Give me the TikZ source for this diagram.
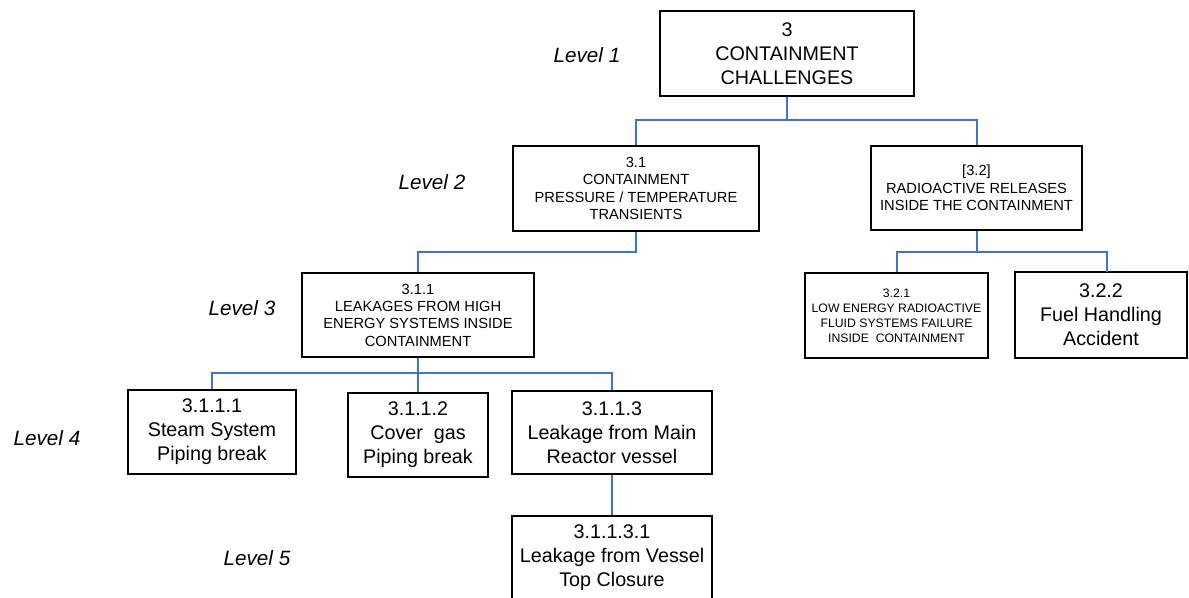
\documentclass[tikz,border=0pt]{standalone}
\usepackage{fontspec}
\setmainfont{Liberation Sans}
\definecolor{connblue}{RGB}{68,114,196}
\begin{document}
\begin{tikzpicture}[x=0.75pt,y=-0.75pt,
  box/.style={draw=black,line width=1.8pt,fill=white,inner sep=0pt,align=center,anchor=center},
  dims/.style 2 args={minimum width=#1*0.75pt,minimum height=#2*0.75pt},
  conn/.style={draw=connblue,line width=1.5pt},
  big/.style={font=\fontsize{14.8}{18}\selectfont},
  midf/.style={font=\fontsize{11}{13}\selectfont},
  smallf/.style={font=\fontsize{9.2}{11.2}\selectfont},
  lvl/.style={font=\fontsize{15.5}{18}\selectfont\itshape,inner sep=0pt}]
\useasboundingbox (0,0) rectangle (1189,598);
\clip (0,0) rectangle (1189,598);
\fill[white] (0,0) rectangle (1189,598);

% level labels
\node[lvl] (l1) at (587,55) {Level 1};
\node[lvl] (l2) at (432,182) {Level 2};
\node[lvl] (l3) at (242,308) {Level 3};
\node[lvl] (l4) at (47,438) {Level 4};
\node[lvl] (l5) at (257,558) {Level 5};

% boxes
\node[box,big,dims={254}{85}] (b3) at (787,53.5) {3\\CONTAINMENT\\CHALLENGES};
\node[box,midf,dims={246}{85}] (b31) at (636,188.5) {3.1\\CONTAINMENT\\PRESSURE / TEMPERATURE\\TRANSIENTS};
\node[box,midf,dims={211}{84}] (b32) at (976.5,188) {[3.2]\\RADIOACTIVE RELEASES\\INSIDE THE CONTAINMENT};
\node[box,midf,dims={232}{84}] (b311) at (418,315) {3.1.1\\LEAKAGES FROM HIGH\\ENERGY SYSTEMS INSIDE\\CONTAINMENT};
\node[box,smallf,dims={183}{85}] (b321) at (896.5,315.5) {3.2.1\\LOW ENERGY RADIOACTIVE\\FLUID SYSTEMS FAILURE\\INSIDE\ \ CONTAINMENT};
\node[box,big,dims={172}{86}] (b322) at (1101,315) {3.2.2\\Fuel Handling\\Accident};
\node[box,big,dims={168}{84}] (b3111) at (212,432) {3.1.1.1\\Steam System\\Piping break};
\node[box,big,dims={140}{84}] (b3112) at (418,435) {3.1.1.2\\Cover\ \ gas\\Piping break};
\node[box,big,dims={200}{83}] (b3113) at (612,432.5) {3.1.1.3\\Leakage from Main\\Reactor vessel};
\node[box,dims={200}{100}] (b31131) at (612,566) {};
\node[big,align=center,inner sep=0pt] (t31131) at (612,558) {3.1.1.3.1\\Leakage from Vessel\\Top Closure};

% junctions
\coordinate (j1) at (787,120);
\coordinate (j2) at (636,252);
\coordinate (j3) at (976.5,252);
\coordinate (j4) at (418,373);
\coordinate (t322) at (1107,272);

% connectors
\draw[conn] (b3.south) -- (j1) -| (b31.north);
\draw[conn] (j1) -| (b32.north);
\draw[conn] (b31.south) -- (j2) -| (b311.north);
\draw[conn] (b32.south) -- (j3) -| (b321.north);
\draw[conn] (j3) -| (t322);
\draw[conn] (b311.south) -- (j4) -| (b3111.north);
\draw[conn] (j4) -- (b3112.north);
\draw[conn] (j4) -| (b3113.north);
\draw[conn] (b3113.south) -- (b31131.north);
\end{tikzpicture}
\end{document}
